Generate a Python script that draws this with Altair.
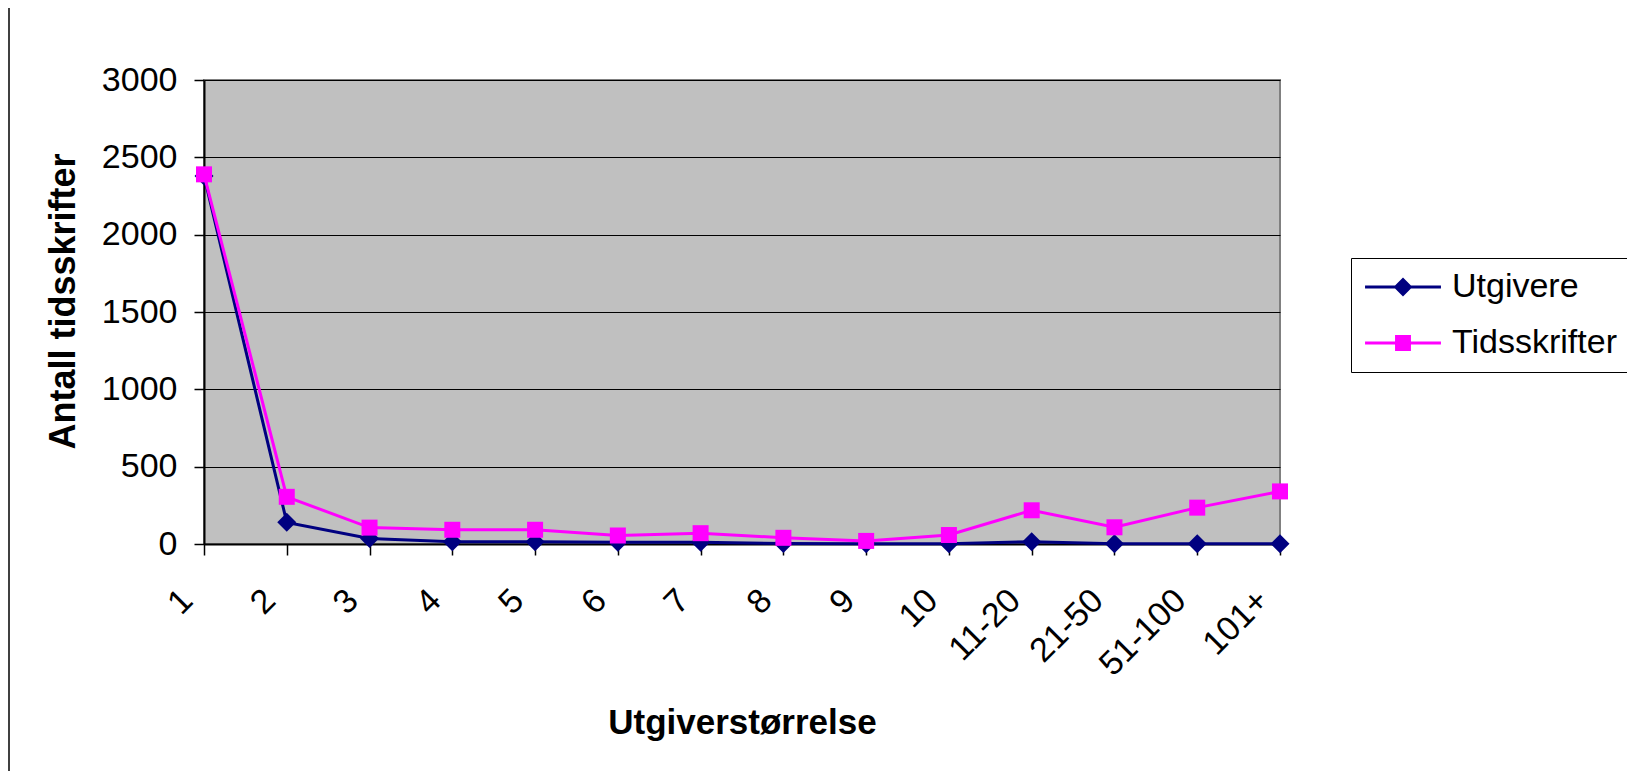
import altair as alt
import pandas as pd

categories = ["1", "2", "3", "4", "5", "6", "7", "8", "9", "10", "11-20", "21-50", "51-100", "101+"]
utgivere = [2380, 140, 35, 14, 14, 12, 12, 3, 2, 2, 15, 2, 1, 1]
tidsskrifter = [2390, 305, 106, 92, 92, 55, 70, 40, 20, 58, 218, 108, 235, 340]
series_names = ["Utgivere", "Tidsskrifter"]
series_colors = ["#000080", "#FF00FF"]
y_ticks = [0, 500, 1000, 1500, 2000, 2500, 3000]

rows = []
for i, c in enumerate(categories):
    rows.append({"kategori": c, "serie": "Utgivere", "antall": utgivere[i]})
    rows.append({"kategori": c, "serie": "Tidsskrifter", "antall": tidsskrifter[i]})
df = pd.DataFrame(rows)

FONT = "Liberation Sans"
W, H = 1076, 464

x_enc = alt.X(
    "kategori:N",
    sort=categories,
    scale=alt.Scale(domain=categories, padding=0),
    axis=alt.Axis(
        title="Utgiverstørrelse",
        titleFont=FONT, titleFontSize=35, titleFontWeight="bold", titleColor="black",
        titleX=538, titleY=178, titleAlign="center", titleBaseline="middle",
        labelAngle=315, labelAlign="right", labelBaseline="top",
        labelFont=FONT, labelFontSize=34, labelColor="black", labelPadding=28,
        labelOffset=-29,
        labelOverlap=False, labelLimit=400,
        tickSize=11, tickColor="black", tickWidth=1.5,
        domainColor="black", domainWidth=2, grid=False,
    ),
)
y_enc = alt.Y(
    "antall:Q",
    scale=alt.Scale(domain=[0, 3000], nice=False),
    axis=alt.Axis(
        title="Antall tidsskrifter", values=y_ticks, format="d",
        titleFont=FONT, titleFontSize=36, titleFontWeight="bold", titleColor="black",
        titleAngle=270, titleX=-141, titleY=221, titleAlign="center", titleBaseline="middle",
        labelFont=FONT, labelFontSize=34, labelColor="black", labelPadding=17,
        tickSize=10, tickColor="black", tickWidth=1.5,
        domainColor="black", domainWidth=2,
        grid=True, gridColor="black", gridWidth=1,
    ),
)

base = alt.Chart(df)

def series_layers(name, color, shape, size):
    sub = base.transform_filter(alt.datum.serie == name)
    line = sub.mark_line(color=color, strokeWidth=3).encode(x=x_enc, y=y_enc)
    pts = sub.mark_point(shape=shape, filled=True, size=size, color=color, opacity=1).encode(x=x_enc, y=y_enc)
    return [line, pts]

path_u = "M-2.53,-0.1H2.53V0.1H-2.53Z M0,-0.63L0.63,0L0,0.63L-0.63,0Z"
path_t = "M-2.53,-0.1H2.53V0.1H-2.53Z M-0.53,-0.53H0.53V0.53H-0.53Z"

legend_spec = dict(
    orient="none", legendX=1147, legendY=178, title=None,
    symbolSize=900, symbolOffset=23, labelOffset=32, padding=12, rowPadding=22,
    strokeColor="black", fillColor="white",
    labelFont=FONT, labelFontSize=34, labelColor="black", labelLimit=400,
    symbolStrokeWidth=0, symbolOpacity=1,
)

legend_layer = base.mark_point(filled=True, size=0, opacity=1).encode(
    x=x_enc, y=y_enc,
    color=alt.Color("serie:N", scale=alt.Scale(domain=series_names, range=series_colors),
                    legend=alt.Legend(**legend_spec)),
    shape=alt.Shape("serie:N", scale=alt.Scale(domain=series_names, range=[path_u, path_t]),
                    legend=alt.Legend(**legend_spec)),
)

border = alt.Chart(pd.DataFrame({"a": [0]})).mark_rule(color="#404040", strokeWidth=2).encode(
    x=alt.value(-195), y=alt.value(-72), y2=alt.value(691)
)

layers = (series_layers("Utgivere", series_colors[0], "diamond", 361)
          + series_layers("Tidsskrifter", series_colors[1], "square", 256)
          + [legend_layer, border])

chart = alt.layer(*layers).properties(
    width=W, height=H,
    autosize=alt.AutoSizeParams(type="none"),
    padding={"left": 196, "top": 72, "right": 347, "bottom": 227},
    background="white",
).configure_view(
    fill="#C0C0C0", stroke="#808080", strokeWidth=2
)

chart.save("out.html", embed_options={"renderer": "svg", "actions": False})
